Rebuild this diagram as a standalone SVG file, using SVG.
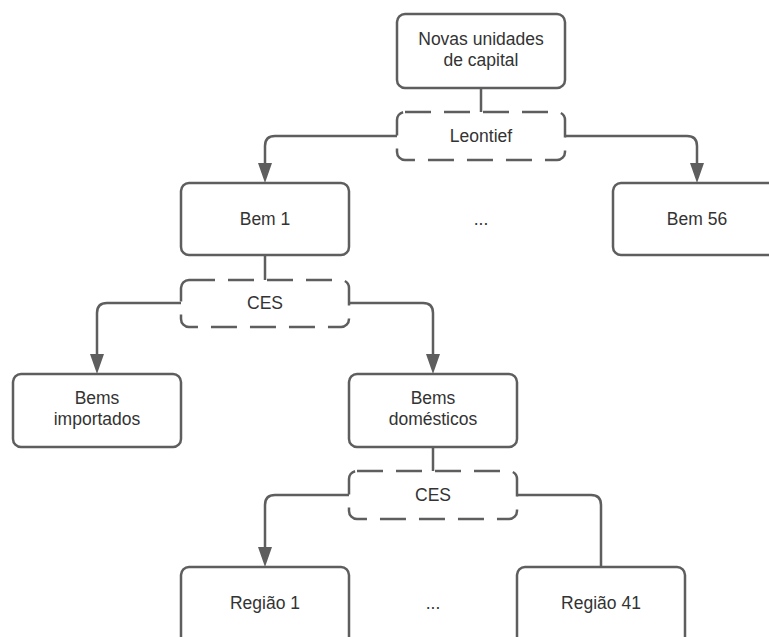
<svg xmlns="http://www.w3.org/2000/svg" width="769" height="637" viewBox="0 0 769 637">
<style>
.box{fill:#ffffff;stroke:#5e5e5e;stroke-width:2.5}
.dash{fill:#ffffff;stroke:#5e5e5e;stroke-width:2.5;stroke-dasharray:26 13}
.conn{fill:none;stroke:#5e5e5e;stroke-width:2.5}
text{font-family:"Liberation Sans",Arial,sans-serif;font-size:17.5px;fill:#333333;text-anchor:middle}
</style>
<defs>
<marker id="arr" markerUnits="userSpaceOnUse" markerWidth="20" markerHeight="14" refX="12" refY="7" orient="auto">
<path d="M0,0 L20,7 L0,14 Z" fill="#5e5e5e"/>
</marker>
</defs>
<rect width="769" height="637" fill="#ffffff"/>
<g id="connectors">
<path class="conn" d="M481,88 V112"/>
<path class="conn" d="M397,136 H275 Q265,136 265,146 V175" marker-end="url(#arr)"/>
<path class="conn" d="M565,136 H687 Q697,136 697,146 V175" marker-end="url(#arr)"/>
<path class="conn" d="M265,255 V280"/>
<path class="conn" d="M181,303 H107 Q97,303 97,313 V366" marker-end="url(#arr)"/>
<path class="conn" d="M349,303 H423 Q433,303 433,313 V366" marker-end="url(#arr)"/>
<path class="conn" d="M433,447 V471"/>
<path class="conn" d="M349,495 H275 Q265,495 265,505 V559" marker-end="url(#arr)"/>
<path class="conn" d="M517,495 H591 Q601,495 601,505 V567"/>
</g>
<g id="novas">
<rect class="box" x="397" y="14" width="168" height="74" rx="8"/>
<text x="481" y="45">Novas unidades</text>
<text x="481" y="66">de capital</text>
</g>
<g id="leontief">
<rect class="dash" x="397" y="112" width="168" height="48" rx="8"/>
<text x="481" y="142">Leontief</text>
</g>
<g id="bem1">
<rect class="box" x="181" y="183" width="168" height="72" rx="8"/>
<text x="265" y="225">Bem 1</text>
</g>
<g id="dots1">
<text x="481" y="225">...</text>
</g>
<g id="bem56">
<rect class="box" x="613" y="183" width="168" height="72" rx="8"/>
<text x="697" y="225">Bem 56</text>
</g>
<g id="ces1">
<rect class="dash" x="181" y="280" width="168" height="47" rx="8"/>
<text x="265" y="309">CES</text>
</g>
<g id="importados">
<rect class="box" x="13" y="374" width="168" height="73" rx="8"/>
<text x="97" y="404">Bems</text>
<text x="97" y="425">importados</text>
</g>
<g id="domesticos">
<rect class="box" x="349" y="374" width="168" height="73" rx="8"/>
<text x="433" y="404">Bems</text>
<text x="433" y="425">domésticos</text>
</g>
<g id="ces2">
<rect class="dash" x="349" y="471" width="168" height="48" rx="8"/>
<text x="433" y="501">CES</text>
</g>
<g id="regiao1">
<rect class="box" x="181" y="567" width="168" height="80" rx="8"/>
<text x="265" y="609">Região 1</text>
</g>
<g id="dots2">
<text x="433" y="609">...</text>
</g>
<g id="regiao41">
<rect class="box" x="517" y="567" width="168" height="80" rx="8"/>
<text x="601" y="609">Região 41</text>
</g>
</svg>
